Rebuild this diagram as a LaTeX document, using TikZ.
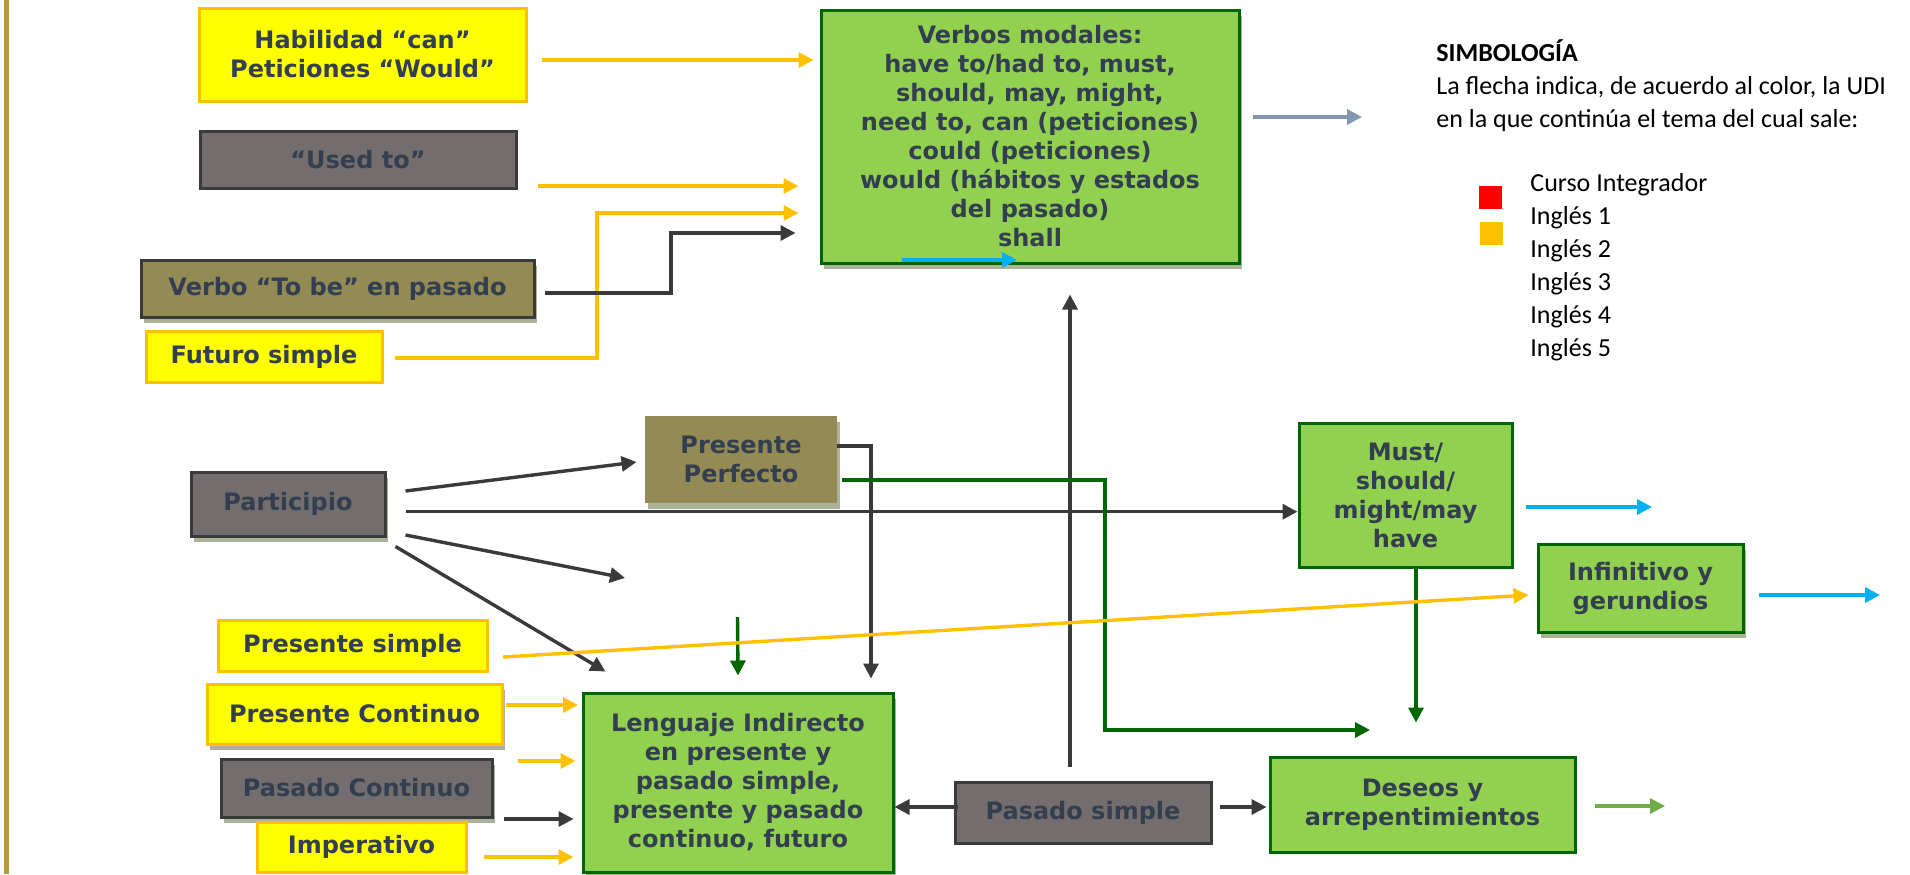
\documentclass[tikz,border=0pt]{standalone}
\usepackage{fontspec}
\setmainfont{Carlito}
\newfontfamily\boxfnt{DejaVu Sans}
\usetikzlibrary{arrows.meta,shadows,calc}

\definecolor{ylw}{HTML}{FFFF00}
\definecolor{org}{HTML}{FFC000}
\definecolor{gry}{HTML}{736D6D}
\definecolor{drk}{HTML}{3A3A3A}
\definecolor{olv}{HTML}{948A54}
\definecolor{grn}{HTML}{92D050}
\definecolor{dgrn}{HTML}{006600}
\definecolor{txt}{HTML}{333F50}
\definecolor{cyn}{HTML}{00B0F0}
\definecolor{blg}{HTML}{8497B0}
\definecolor{lgrn}{HTML}{70AD47}
\definecolor{gold}{HTML}{B59B3C}
\definecolor{shdc}{HTML}{AAB298}
\definecolor{rojo}{HTML}{FF0000}

\begin{document}
\begin{tikzpicture}
  [x=0.5pt,y=-0.5pt,
   box/.style={draw,line width=1.5pt,align=center,inner sep=0pt,text=txt,
     font=\boxfnt\bfseries\fontsize{12}{14.5}\selectfont},
   ybox/.style={box,fill=ylw,draw=org},
   gbox/.style={box,fill=gry,draw=drk},
   obox/.style={box,fill=olv,draw=drk},
   vbox/.style={box,fill=grn,draw=dgrn},
   shd/.style={drop shadow={shadow xshift=1.5pt,shadow yshift=-3pt,fill=shdc,opacity=1}},
   arr/.style={line width=1.7pt,-{Triangle[length=7.5pt,width=7.5pt]}},
   ora/.style={arr,draw=org},
   dka/.style={arr,draw=drk},
   gna/.style={arr,draw=dgrn},
   cya/.style={arr,draw=cyn},
   bga/.style={arr,draw=blg},
   lga/.style={arr,draw=lgrn},
   leg/.style={anchor=base west,inner sep=0pt,font=\fontsize{13}{16.5}\selectfont}]
  \useasboundingbox (0,0) rectangle (1910,874);
  \fill[gold] (4,0) rectangle (9,874);

  \node[ybox,minimum width=163.5pt,minimum height=46.5pt] (hab) at (362.5,54.5) {Habilidad “can”\\Peticiones “Would”};
  \node[gbox,minimum width=158pt,minimum height=28.5pt] (used) at (358,159.5) {“Used to”};
  \node[obox,shd,minimum width=196.5pt,minimum height=28.5pt] (tobe) at (337.5,288.5) {Verbo “To be” en pasado};
  \node[ybox,minimum width=118pt,minimum height=25.5pt] (fut) at (264,356.5) {Futuro simple};
  \node[vbox,shd,minimum width=209pt,minimum height=126.5pt] (mod) at (1030,136.5) {Verbos modales:\\have to/had to, must,\\should, may, might,\\need to, can (peticiones)\\could (peticiones)\\would (hábitos y estados\\del pasado)\\shall};
  \node[gbox,shd,minimum width=97pt,minimum height=32pt] (part) at (288,504) {Participio};
  \node[obox,shd,draw=none,minimum width=96pt,minimum height=43.5pt] (pperf) at (741,459.5) {Presente\\Perfecto};
  \node[vbox,minimum width=106.5pt,minimum height=72pt] (must) at (1405.5,495) {Must/\\should/\\might/may\\have};
  \node[vbox,shd,minimum width=102.5pt,minimum height=44pt] (inf) at (1640.5,588) {Infinitivo y\\gerundios};
  \node[ybox,minimum width=134.5pt,minimum height=25.5pt] (psim) at (352.5,645.5) {Presente simple};
  \node[ybox,shd,minimum width=147.5pt,minimum height=30pt] (pcont) at (354.5,714) {Presente Continuo};
  \node[gbox,shd,minimum width=135.5pt,minimum height=29pt] (pascont) at (356.5,788) {Pasado Continuo};
  \node[ybox,minimum width=104.5pt,minimum height=25pt] (imp) at (361.5,847) {\raisebox{-2.5pt}{Imperativo}};
  \node[vbox,shd,minimum width=155pt,minimum height=89.5pt] (leng) at (738,782.5) {Lenguaje Indirecto\\en presente y\\pasado simple,\\presente y pasado\\continuo, futuro};
  \node[gbox,minimum width=128pt,minimum height=30.5pt] (pas) at (1083,812.5) {Pasado simple};
  \node[vbox,minimum width=152.5pt,minimum height=47.5pt] (des) at (1422.5,804.5) {Deseos y\\arrepentimientos};

  \coordinate (bgend) at (1362,117);
  \coordinate (c1) at (902,260);
  \coordinate (c2) at (1017,260);
  \coordinate (pend) at (625,578);
  \coordinate (gend) at (1370,730);
  \coordinate (g1) at (737.5,617);
  \coordinate (cend1) at (1652,507);
  \coordinate (cend2) at (1880,595);
  \coordinate (o1) at (518,761);
  \coordinate (lgend) at (1665,806);

  \draw[ora,shorten <=7pt,shorten >=3pt] (hab.east |- 0,60) -- (mod.west |- 0,60);
  \draw[ora,shorten <=10pt,shorten >=10.5pt] (used.east |- 0,186) -- (mod.west |- 0,186);
  \draw[ora,shorten <=5.5pt,shorten >=10.5pt] (fut.east |- 0,358) -| (597,213) -- (mod.west |- 0,213);
  \draw[dka,shorten <=4.5pt,shorten >=12pt] (tobe.east |- 0,293) -| (671,233) -- (mod.west |- 0,233);
  \draw[bga,shorten <=6pt] (mod.east |- 0,117) -- (bgend);
  \draw[cya] (c1) -- (c2);
  \draw[dka,shorten <=7pt,shorten >=15pt] (pas.north -| 1070,0) -- (mod.south -| 1070,0);

  \draw[dka] ($(part.east)+(19,-13)$) -- ($(pperf.west)+(-7,2.5)$);
  \draw[dka,shorten <=9.5pt] (part.east |- 0,511.7) -- (must.west |- 0,511.7);
  \draw[dka] ($(part.east)+(19,31)$) -- (pend);
  \draw[dka] ($(part.south east)+(9,9)$) -- ($(leng.north west)+(24,-20)$);
  \draw[dka] ($(pperf.east)+(-2,-13.5)$) -| ($(leng.north)+(133,-13)$);
  \draw[gna,shorten <=1.5pt] (pperf.east |- 0,480) -| (1105,730) -- (gend);
  \draw[gna] (g1) -- ($(leng.north)+(0,-16)$);
  \draw[gna,shorten >=16.5pt] (must.south -| 1416,0) -- (des.north -| 1416,0);
  \draw[cya,shorten <=6pt] (must.east |- 0,507) -- (cend1);
  \draw[ora] ($(psim.east)+(14.6,11.5)$) -- ($(inf.west)+(-8,7)$);
  \draw[cya,shorten <=7pt] (inf.east |- 0,595) -- (cend2);

  \draw[ora,shorten <=1pt,shorten >=1.75pt] (pcont.east |- 0,705) -- (leng.west |- 0,705);
  \draw[ora,shorten >=3pt] (o1) -- (leng.west |- 0,761);
  \draw[dka,shorten <=5pt,shorten >=4pt] (pascont.east |- 0,819) -- (leng.west |- 0,819);
  \draw[ora,shorten <=8pt,shorten >=4pt] (imp.east |- 0,857) -- (leng.west |- 0,857);
  \draw[dka,shorten <=-2pt] (pas.west |- 0,807) -- (leng.east |- 0,807);
  \draw[dka,shorten <=3.5pt,shorten >=1pt] (pas.east |- 0,807) -- (des.west |- 0,807);
  \draw[lga,shorten <=9pt] (des.east |- 0,806) -- (lgend);

  \node[leg,font=\bfseries\fontsize{13}{16.5}\selectfont] (sim) at (1436,61) {SIMBOLOGÍA};
  \node[leg] (lg1) at (1436,94) {La flecha indica, de acuerdo al color, la UDI};
  \node[leg] (lg2) at (1436,127) {en la que continúa el tema del cual sale:};
  \node[fill=rojo,inner sep=0pt,minimum size=11.5pt] (sq1) at (1490.5,197.5) {};
  \node[fill=org,inner sep=0pt,minimum size=11.5pt] (sq2) at (1491.5,233.5) {};
  \foreach \t [count=\i] in {Curso Integrador,Inglés 1,Inglés 2,Inglés 3,Inglés 4,Inglés 5}
    \node[leg] (it\i) at (1530,{158+33*\i}) {\t};

\end{tikzpicture}
\end{document}
